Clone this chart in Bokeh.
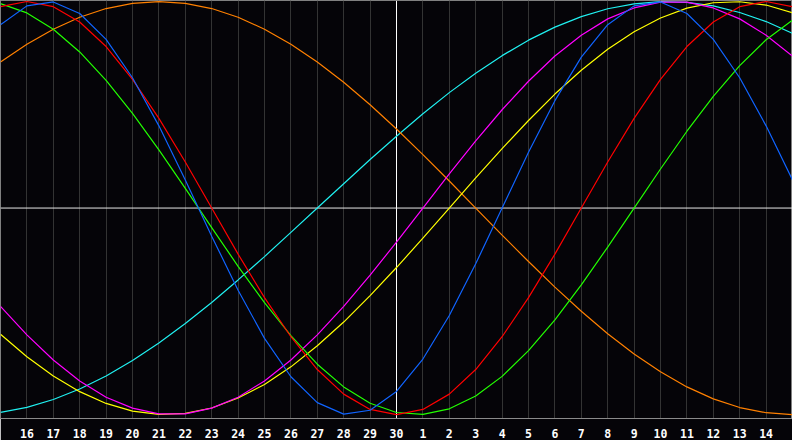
from bokeh.plotting import figure
from bokeh.models import FixedTicker, Span
from bokeh.embed import file_html
from bokeh.resources import INLINE

# day numbers for each sampled point (index 0 .. 30)
days = [15, 16, 17, 18, 19, 20, 21, 22, 23, 24, 25, 26, 27, 28, 29, 30,
        1, 2, 3, 4, 5, 6, 7, 8, 9, 10, 11, 12, 13, 14, 15]
tick_positions = list(range(1, 30))
tick_labels = [str(d) for d in days[1:30]]

# cycle values (percent) read at each day line
cycle_23 = [88.8, 97.9, 99.8, 94.2, 81.7, 63.1, 39.8, 13.6, -13.6, -39.8, -63.1, -81.7, -94.2, -99.8, -97.9,
            -88.8, -73.1, -52.0, -27.0, 0.0, 27.0, 52.0, 73.1, 88.8, 97.9, 99.8, 94.2, 81.7, 63.1, 39.8, 13.6]
cycle_28 = [97.5, 100.0, 97.5, 90.1, 78.2, 62.3, 43.4, 22.3, 0.0, -22.3, -43.4, -62.3, -78.2, -90.1, -97.5,
            -100.0, -97.5, -90.1, -78.2, -62.3, -43.4, -22.3, 0.0, 22.3, 43.4, 62.3, 78.2, 90.1, 97.5, 100.0, 97.5]
cycle_33 = [99.0, 94.5, 86.6, 75.6, 61.8, 45.8, 28.2, 9.5, -9.5, -28.2, -45.8, -61.8, -75.6, -86.6, -94.5,
            -99.0, -99.9, -97.2, -91.0, -81.5, -69.0, -54.1, -37.2, -18.9, 0.0, 18.9, 37.2, 54.1, 69.0, 81.5, 91.0]
cycle_38 = [-47.6, -61.4, -73.6, -83.7, -91.6, -96.9, -99.7, -99.7, -96.9, -91.6, -83.7, -73.6, -61.4, -47.6, -32.5,
            -16.5, 0.0, 16.5, 32.5, 47.6, 61.4, 73.6, 83.7, 91.6, 96.9, 99.7, 99.7, 96.9, 91.6, 83.7, 73.6]
cycle_43 = [-61.1, -72.0, -81.3, -88.9, -94.6, -98.3, -99.9, -99.4, -96.8, -92.0, -85.4, -76.9, -66.7, -55.2, -42.4,
            -28.8, -14.6, 0.0, 14.6, 28.8, 42.4, 55.2, 66.7, 76.9, 85.4, 92.0, 96.8, 99.4, 99.9, 98.3, 94.6]
cycle_48 = [70.7, 79.3, 86.6, 92.4, 96.6, 99.1, 100.0, 99.1, 96.6, 92.4, 86.6, 79.3, 70.7, 60.9, 50.0,
            38.3, 25.9, 13.1, 0.0, -13.1, -25.9, -38.3, -50.0, -60.9, -70.7, -79.3, -86.6, -92.4, -96.6, -99.1, -100.0]
cycle_53 = [-98.9, -96.5, -92.7, -87.6, -81.3, -73.8, -65.3, -55.9, -45.7, -34.8, -23.5, -11.8, 0.0, 11.8, 23.5,
            34.8, 45.7, 55.9, 65.3, 73.8, 81.3, 87.6, 92.7, 96.5, 98.9, 100.0, 99.6, 97.9, 94.7, 90.3, 84.6]

series = [
    (cycle_53, "#20f0f0"),
    (cycle_48, "#ff8000"),
    (cycle_43, "#ffff00"),
    (cycle_38, "#ff00ff"),
    (cycle_33, "#22ff00"),
    (cycle_28, "#ff0000"),
    (cycle_23, "#1064ff"),
]

x = list(range(len(days)))

p = figure(width=792, height=440, x_range=(0, 30), y_range=(-101.9, 100.5),
           output_backend="svg", toolbar_location=None, y_axis_location=None,
           min_border_left=0, min_border_right=0, min_border_top=0, min_border_bottom=20)
p.background_fill_color = "#050408"
p.border_fill_color = "#050408"
p.outline_line_color = "#808080"

p.xaxis.ticker = FixedTicker(ticks=tick_positions)
p.xaxis.major_label_overrides = {t: l for t, l in zip(tick_positions, tick_labels)}
p.xaxis.axis_line_color = "#8a8a8a"
p.xaxis.major_tick_line_color = None
p.xaxis.minor_tick_line_color = None
p.xaxis.major_label_standoff = 4
p.xaxis.major_label_text_color = "#ffffff"
p.xaxis.major_label_text_font = "DejaVu Sans Mono"
p.xaxis.major_label_text_font_style = "bold"
p.xaxis.major_label_text_font_size = "11.5px"

p.xgrid.ticker = FixedTicker(ticks=tick_positions)
p.xgrid.grid_line_color = "#333333"
p.ygrid.grid_line_color = None

p.add_layout(Span(location=15, dimension="height", line_color="#ffffff", line_width=1, level="underlay"))
p.add_layout(Span(location=0, dimension="width", line_color="#e8e8e8", line_width=1, level="underlay"))

for vals, col in series:
    p.line(x, vals, line_color=col, line_width=1.2)

open("out.html", "w").write(file_html(p, INLINE))
